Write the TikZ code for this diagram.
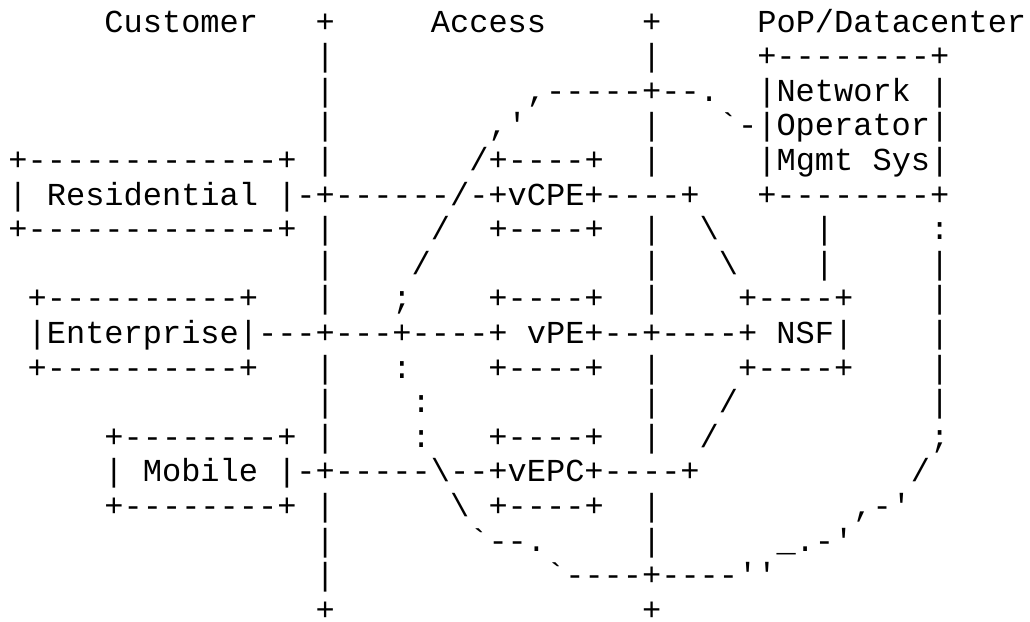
\documentclass[tikz,border=0pt]{standalone}
\usepackage{fontspec}
\setmonofont{Liberation Mono}
\newlength{\cw}
\newcommand{\gap}[1]{\hspace*{#1\cw}}
\newcommand{\bs}{\textbackslash}
\tikzset{asciiline/.style={anchor=base west, inner sep=0pt, outer sep=0pt,
  font=\ttfamily\fontsize{32}{34.6}\selectfont\setlength{\cw}{19.2pt}}}
\begin{document}
\begin{tikzpicture}[x=1pt,y=1pt]
\useasboundingbox (0,0) rectangle (1030,-621);
\def\lx{8.5}
\node[asciiline] (l0)  at (\lx,-32.0) {\gap{5}Customer\gap{3}+\gap{5}Access\gap{5}+\gap{5}PoP/Datacenter};
\node[asciiline] (l1)  at (\lx,-66.6) {\gap{16}|\gap{16}|\gap{5}+--------+};
\node[asciiline] (l2)  at (\lx,-101.2) {\gap{16}|\gap{10},-----+--.\gap{2}|Network\gap{1}|};
\node[asciiline] (l3)  at (\lx,-135.8) {\gap{16}|\gap{8},'\gap{6}|\gap{3}`-|Operator|};
\node[asciiline] (l4)  at (\lx,-170.4) {+-------------+\gap{1}|\gap{7}/+----+\gap{2}|\gap{5}|Mgmt\gap{1}Sys|};
\node[asciiline] (l5)  at (\lx,-205.0) {|\gap{1}Residential\gap{1}|-+------/-+vCPE+----+\gap{3}+--------+};
\node[asciiline] (l6)  at (\lx,-239.6) {+-------------+\gap{1}|\gap{5}/\gap{2}+----+\gap{2}|\gap{2}\bs\gap{5}|\gap{5}:};
\node[asciiline] (l7)  at (\lx,-274.2) {\gap{16}|\gap{4}/\gap{11}|\gap{3}\bs\gap{4}|\gap{5}|};
\node[asciiline] (l8)  at (\lx,-308.8) {\gap{1}+----------+\gap{3}|\gap{3};\gap{4}+----+\gap{2}|\gap{4}+----+\gap{4}|};
\node[asciiline] (l9)  at (\lx,-343.4) {\gap{1}|Enterprise|---+---+----+\gap{1}vPE+--+----+\gap{1}NSF|\gap{4}|};
\node[asciiline] (l10) at (\lx,-378.0) {\gap{1}+----------+\gap{3}|\gap{3}:\gap{4}+----+\gap{2}|\gap{4}+----+\gap{4}|};
\node[asciiline] (l11) at (\lx,-412.6) {\gap{16}|\gap{4}:\gap{11}|\gap{3}/\gap{10}|};
\node[asciiline] (l12) at (\lx,-447.2) {\gap{5}+--------+\gap{1}|\gap{4}:\gap{3}+----+\gap{2}|\gap{2}/\gap{11};};
\node[asciiline] (l13) at (\lx,-481.8) {\gap{5}|\gap{1}Mobile\gap{1}|-+-----\bs--+vEPC+----+\gap{11}/};
\node[asciiline] (l14) at (\lx,-516.4) {\gap{5}+--------+\gap{1}|\gap{6}\bs\gap{1}+----+\gap{2}|\gap{10},-'};
\node[asciiline] (l15) at (\lx,-551.0) {\gap{16}|\gap{7}`--.\gap{5}|\gap{6}\_.-'};
\node[asciiline] (l16) at (\lx,-585.6) {\gap{16}|\gap{11}`----+----''};
\node[asciiline] (l17) at (\lx,-620.2) {\gap{16}+\gap{16}+};
\end{tikzpicture}
\end{document}
